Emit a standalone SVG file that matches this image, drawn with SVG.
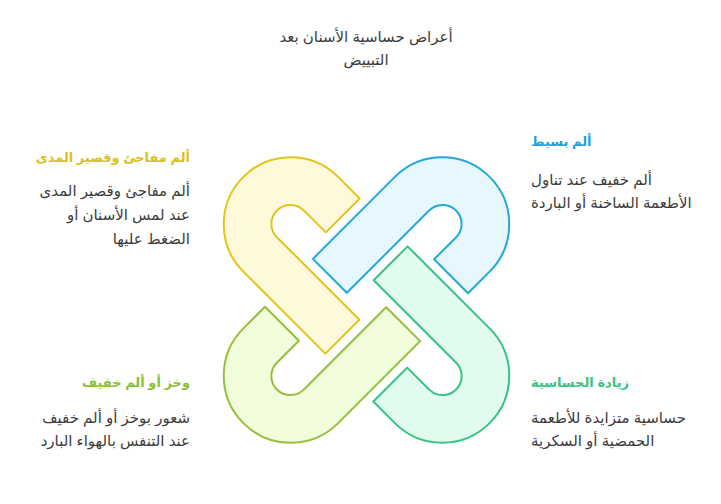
<svg xmlns="http://www.w3.org/2000/svg" width="721" height="504" viewBox="0 0 721 504">
<style>
text{font-family:"Liberation Sans","DejaVu Sans",sans-serif;font-size:15px}
.t{fill:#3c3c3c}
.h{font-weight:bold;font-size:13px}
.hook{stroke-width:2;stroke-linejoin:round}
</style>
<defs>
<path id="hk" d="M 359.7,198.5 L 338.13,176.87 A 67 67 0 1 0 243.37,271.63 L 325.37,353.63 L 359.32,319.68 L 277.32,237.68 A 19 19 0 1 1 304.18,210.82 L 325.8,232.4 Z"/>
</defs>
<rect width="721" height="504" fill="#fff"/>
<g id="title">
<text class="t" x="366" y="42" text-anchor="middle">أعراض حساسية الأسنان بعد</text>
<text class="t" x="366" y="65" text-anchor="middle">التبييض</text>
</g>
<g id="connectors"></g>
<g id="hook-yellow"><use href="#hk" class="hook" fill="#fef9db" stroke="#e2c51c"/></g>
<g id="hook-blue"><use href="#hk" class="hook" fill="#e6f7fd" stroke="#22a9d8" transform="rotate(90 366.5 300)"/></g>
<g id="hook-green"><use href="#hk" class="hook" fill="#e1fcef" stroke="#36c283" transform="rotate(180 366.5 300)"/></g>
<g id="hook-lime"><use href="#hk" class="hook" fill="#f2fddb" stroke="#95bf3c" transform="rotate(270 366.5 300)"/></g>
<g id="node-tl">
<text class="h" x="190" y="162" text-anchor="end" fill="#d9c11c">ألم مفاجئ وقصير المدى</text>
<text class="t" x="190" y="196" text-anchor="end">ألم مفاجئ وقصير المدى</text>
<text class="t" x="190" y="220" text-anchor="end">عند لمس الأسنان أو</text>
<text class="t" x="190" y="244" text-anchor="end">الضغط عليها</text>
</g>
<g id="node-tr">
<text class="h" x="531" y="146" fill="#1fa3d4">ألم بسيط</text>
<text class="t" x="531" y="185" >ألم خفيف عند تناول</text>
<text class="t" x="531" y="208">الأطعمة الساخنة أو الباردة</text>
</g>
<g id="node-bl">
<text class="h" x="190" y="387" text-anchor="end" fill="#8dbe3a">وخز أو ألم خفيف</text>
<text class="t" x="190" y="423" text-anchor="end">شعور بوخز أو ألم خفيف</text>
<text class="t" x="190" y="446" text-anchor="end">عند التنفس بالهواء البارد</text>
</g>
<g id="node-br">
<text class="h" x="531" y="387" fill="#3cc382">زيادة الحساسية</text>
<text class="t" x="531" y="423">حساسية متزايدة للأطعمة</text>
<text class="t" x="531" y="446">الحمضية أو السكرية</text>
</g>
</svg>
